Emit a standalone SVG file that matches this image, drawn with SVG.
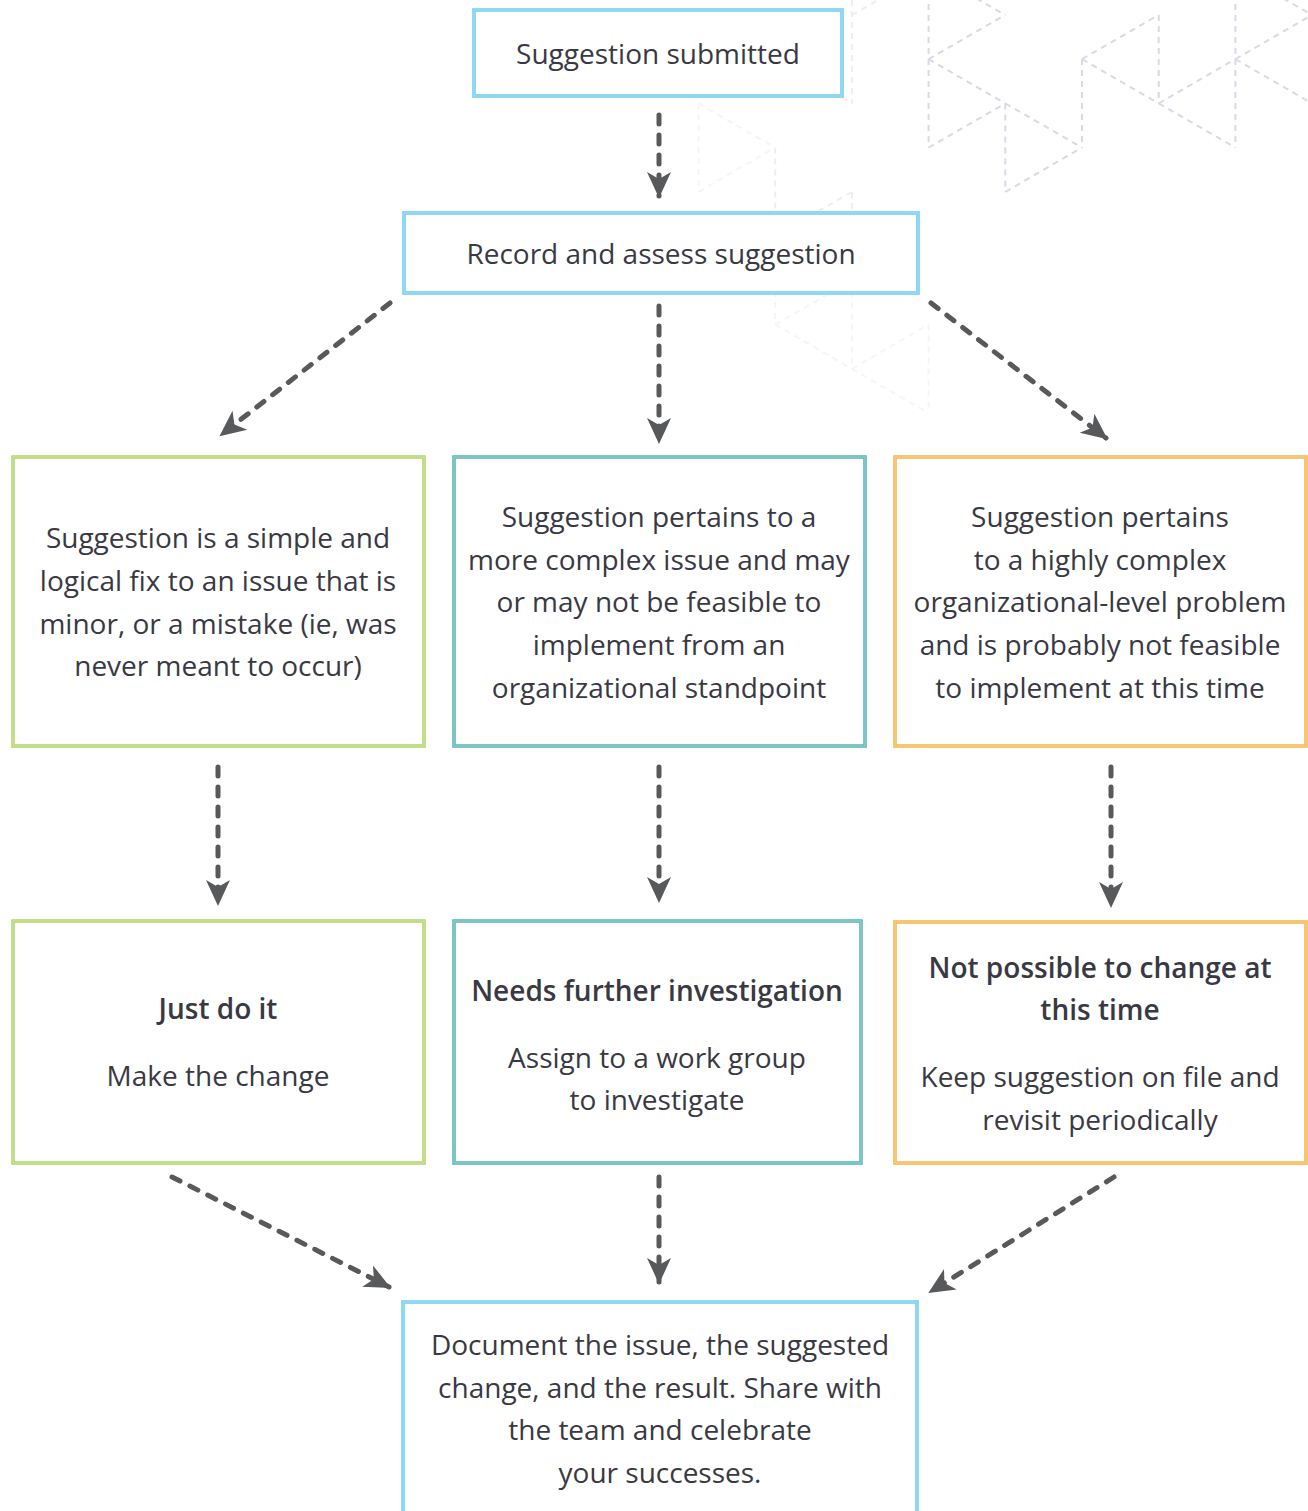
<svg xmlns="http://www.w3.org/2000/svg" width="1308" height="1511" viewBox="0 0 1308 1511">
  <defs>
    <style>
      .bg { fill: #ffffff; }
      .lat { fill: none; stroke-width: 2; stroke-dasharray: 6 5; }
      .lat-a { stroke: #ddd8e5; }
      .lat-b { stroke: #eeeef1; }
      .lat-c { stroke: #f5f5f7; }
      .box { fill: #ffffff; stroke-width: 3.5; }
      .seam { fill: none; stroke: #ffffff; stroke-width: 0.8; stroke-opacity: 0.6; }
      .blue { stroke: #6ccbf0; }
      .green { stroke: #b2d366; }
      .teal { stroke: #52b5b3; }
      .orange { stroke: #f6b348; }
      .t { font-family: "Open Sans", "Noto Sans", "Liberation Sans", sans-serif; font-size: 28px; fill: #393944; text-anchor: middle; }
      .b { font-weight: 600; }
      .flow { fill: none; stroke: #58595b; stroke-width: 5; stroke-linecap: round; stroke-dasharray: 9 11; }
    </style>
    <marker id="head" markerUnits="userSpaceOnUse" viewBox="-26 -13 30 26" markerWidth="30" markerHeight="26" refX="0" refY="0" orient="auto">
      <path d="M2,0 L-24,-12 L-17,0 L-24,12 Z" fill="#58595b"/>
    </marker>
  </defs>

  <rect class="bg" x="0" y="0" width="1308" height="1511"/>

  <!-- faint dashed triangle lattice, top right -->
  <g id="lattice">
    <g class="lat lat-a">
      <path d="M1235.4,-29 V147.5"/>
      <path d="M1235.4,59 L1312.1,15 M1235.4,59 L1312.1,103.5 M1235.4,-29 L1312.1,15"/>
      <path d="M1158.7,15 V103.5"/>
      <path d="M1158.7,103.5 L1235.4,59 M1158.7,103.5 L1235.4,147.5"/>
      <path d="M1082,59 L1158.7,15 M1082,59 L1158.7,103.5"/>
      <path d="M1082,59 V147.5"/>
      <path d="M1005.3,103.5 L1082,147.5 M1005.3,192 L1082,147.5"/>
      <path d="M1005.3,103.5 V192"/>
      <path d="M928.6,59 L1005.3,15 M928.6,59 L1005.3,103.5 M928.6,147.5 L1005.3,103.5 M928.6,-29 L1005.3,15"/>
      <path d="M928.6,-29 V147.5"/>
    </g>
    <g class="lat lat-b">
      <path d="M851.9,0 V103.5"/>
      <path d="M851.9,15 L928.6,-29"/>
      <path d="M775.2,59 L851.9,103.5"/>
      <path d="M775.2,147.5 V236"/>
      <path d="M851.9,192 L775.2,236"/>
      <path d="M851.9,192 V280.5"/>
    </g>
    <g class="lat lat-c">
      <path d="M698.5,103.5 L775.2,147.5 M698.5,192 L775.2,147.5"/>
      <path d="M698.5,15 V192"/>
      <path d="M775.2,236 V324.5"/>
      <path d="M775.2,324.5 L851.9,280.5 M775.2,324.5 L851.9,369"/>
      <path d="M851.9,280.5 V369"/>
      <path d="M851.9,369 L928.6,324.5 M851.9,369 L928.6,413"/>
      <path d="M928.6,324.5 V413"/>
    </g>
  </g>

  <!-- connectors -->
  <g id="connectors">
    <path class="flow" d="M659,115 V196" marker-end="url(#head)"/>
    <path class="flow" d="M390,303 L221,435" marker-end="url(#head)"/>
    <path class="flow" d="M659,306 V442" marker-end="url(#head)"/>
    <path class="flow" d="M931,303 L1106,438" marker-end="url(#head)"/>
    <path class="flow" d="M218,767 V904" marker-end="url(#head)"/>
    <path class="flow" d="M659,767 V901" marker-end="url(#head)"/>
    <path class="flow" d="M1111,767 V906" marker-end="url(#head)"/>
    <path class="flow" d="M172,1177 L389,1287" marker-end="url(#head)"/>
    <path class="flow" d="M659,1177 V1282" marker-end="url(#head)"/>
    <path class="flow" d="M1114,1177 L930,1292" marker-end="url(#head)"/>
  </g>

  <g id="submitted">
    <rect class="box blue" x="474" y="10" width="368" height="86"/>
    <rect class="seam" x="474" y="10" width="368" height="86"/>
    <text class="t" x="658" y="64">Suggestion submitted</text>
  </g>

  <g id="assess">
    <rect class="box blue" x="404" y="213" width="514" height="80"/>
    <rect class="seam" x="404" y="213" width="514" height="80"/>
    <text class="t" x="661" y="264">Record and assess suggestion</text>
  </g>

  <g id="simple">
    <rect class="box green" x="13" y="457" width="411" height="289"/>
    <rect class="seam" x="13" y="457" width="411" height="289"/>
    <text class="t" x="218" y="548">Suggestion is a simple and</text>
    <text class="t" x="218" y="591">logical fix to an issue that is</text>
    <text class="t" x="218" y="634">minor, or a mistake (ie, was</text>
    <text class="t" x="218" y="676">never meant to occur)</text>
  </g>

  <g id="complex">
    <rect class="box teal" x="454" y="457" width="411" height="289"/>
    <rect class="seam" x="454" y="457" width="411" height="289"/>
    <text class="t" x="659" y="527">Suggestion pertains to a</text>
    <text class="t" x="659" y="570">more complex issue and may</text>
    <text class="t" x="659" y="612">or may not be feasible to</text>
    <text class="t" x="659" y="655">implement from an</text>
    <text class="t" x="659" y="698">organizational standpoint</text>
  </g>

  <g id="highly-complex">
    <rect class="box orange" x="895" y="457" width="411" height="289"/>
    <rect class="seam" x="895" y="457" width="411" height="289"/>
    <text class="t" x="1100" y="527">Suggestion pertains</text>
    <text class="t" x="1100" y="570">to a highly complex</text>
    <text class="t" x="1100" y="612">organizational-level problem</text>
    <text class="t" x="1100" y="655">and is probably not feasible</text>
    <text class="t" x="1100" y="698">to implement at this time</text>
  </g>

  <g id="just-do-it">
    <rect class="box green" x="13" y="921" width="411" height="242"/>
    <rect class="seam" x="13" y="921" width="411" height="242"/>
    <text class="t b" x="218" y="1019">Just do it</text>
    <text class="t" x="218" y="1086">Make the change</text>
  </g>

  <g id="investigate">
    <rect class="box teal" x="454" y="921" width="407" height="242"/>
    <rect class="seam" x="454" y="921" width="407" height="242"/>
    <text class="t b" x="657" y="1001">Needs further investigation</text>
    <text class="t" x="657" y="1068">Assign to a work group</text>
    <text class="t" x="657" y="1110">to investigate</text>
  </g>

  <g id="not-possible">
    <rect class="box orange" x="895" y="922" width="411" height="241"/>
    <rect class="seam" x="895" y="922" width="411" height="241"/>
    <text class="t b" x="1100" y="978">Not possible to change at</text>
    <text class="t b" x="1100" y="1020">this time</text>
    <text class="t" x="1100" y="1087">Keep suggestion on file and</text>
    <text class="t" x="1100" y="1130">revisit periodically</text>
  </g>

  <g id="document">
    <rect class="box blue" x="403" y="1302" width="514" height="230"/>
    <rect class="seam" x="403" y="1302" width="514" height="230"/>
    <text class="t" x="660" y="1355">Document the issue, the suggested</text>
    <text class="t" x="660" y="1398">change, and the result. Share with</text>
    <text class="t" x="660" y="1440">the team and celebrate</text>
    <text class="t" x="660" y="1483">your successes.</text>
  </g>
</svg>
